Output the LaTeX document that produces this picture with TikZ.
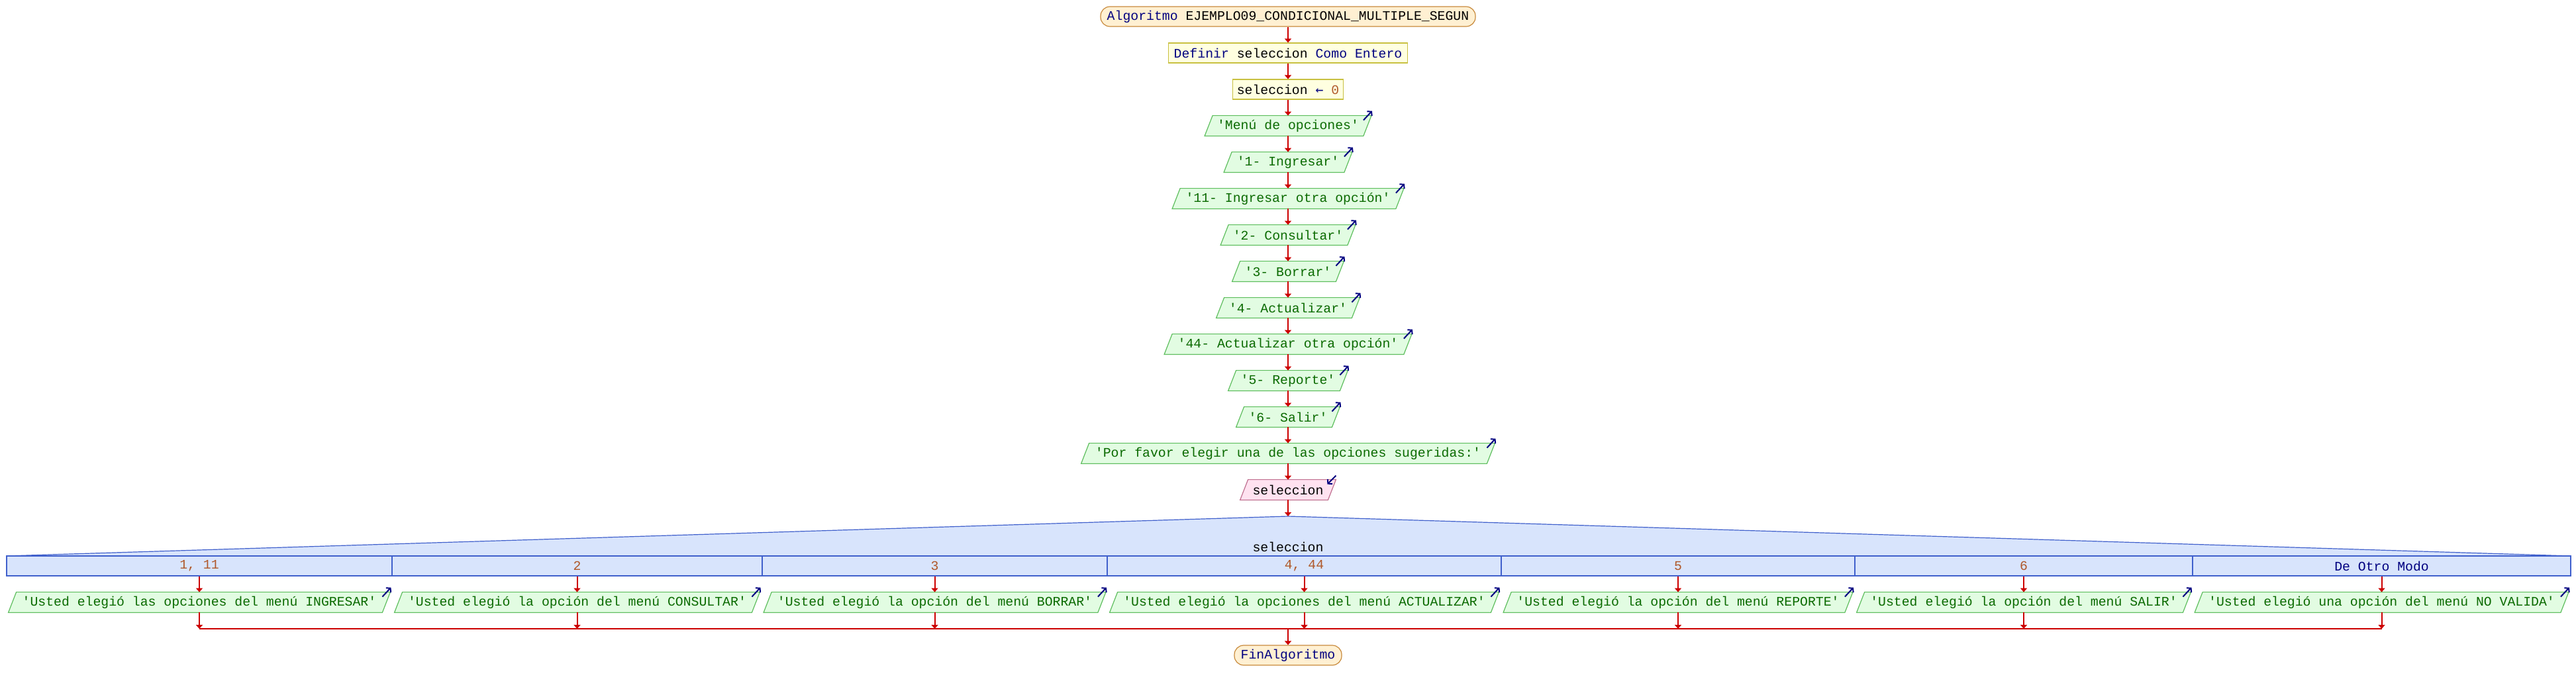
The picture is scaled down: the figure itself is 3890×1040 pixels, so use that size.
\documentclass[tikz,border=0pt]{standalone}
\usepackage{fontspec}
\setmonofont{Liberation Mono}
\newfontfamily\arrowfont{DejaVu Sans Mono}
\usetikzlibrary{arrows.meta}
\pgfdeclarelayer{back}
\pgfdeclarelayer{bg}
\pgfsetlayers{back,bg,main}
\definecolor{kwc}{HTML}{000080}
\definecolor{strc}{HTML}{0A6A00}
\definecolor{numc}{HTML}{B0582A}
\definecolor{redc}{HTML}{CC0000}
\definecolor{termf}{HTML}{FFF0D2}
\definecolor{termb}{HTML}{C88A3C}
\definecolor{procf}{HTML}{FFFFE0}
\definecolor{procb}{HTML}{C8C040}
\definecolor{iof}{HTML}{E2FCE2}
\definecolor{iob}{HTML}{5EBE5E}
\definecolor{inpf}{HTML}{FFE2F0}
\definecolor{inpb}{HTML}{C07090}
\definecolor{swf}{HTML}{D8E4FC}
\definecolor{swb}{HTML}{4060CC}
\tikzset{
  sTerm/.style={draw=termb, fill=termf, line width=0.6pt, rounded corners=7pt, minimum height=15pt, inner sep=0pt},
  sProc/.style={draw=procb, fill=procf, line width=0.6pt, minimum height=15pt, inner sep=0pt},
  sIOtext/.style={minimum height=15pt, inner sep=0pt},
  sIO/.style={draw=iob, fill=iof, line width=0.6pt},
  sInp/.style={draw=inpb, fill=inpf, line width=0.6pt},
  sConn/.style={draw=redc, line width=1pt, -{Triangle[length=3pt,width=5pt]}},
  sMerge/.style={draw=redc, line width=1.4pt},
  sOut/.style={draw=kwc, line width=1pt, -{Straight Barb[length=2.2pt,width=5pt]}},
  sCase/.style={draw=swb, fill=swf, line width=0.6pt, minimum height=15pt, inner sep=0pt},
}
\newcommand{\paral}[6]{%
  \node[sIOtext, minimum width=#4*0.5pt] (#1) at (#2,#3) {#6};
  \begin{pgfonlayer}{bg}
    \draw[#5] ([xshift=-3pt]#1.south west) -- ([xshift=3pt]#1.north west) -- ([xshift=3pt]#1.north east) -- ([xshift=-3pt]#1.south east) -- cycle;
  \end{pgfonlayer}
}
\newcommand{\outarrow}[1]{\draw[sOut] ([xshift=-3pt,yshift=-3.5pt]#1.north east) -- ([xshift=3.5pt,yshift=3.5pt]#1.north east);}
\newcommand{\inarrow}[1]{\draw[sOut] ([xshift=3pt,yshift=3pt]#1.north east) -- ([xshift=-3.5pt,yshift=-3.5pt]#1.north east);}
\begin{document}
\begin{tikzpicture}[x=0.5pt,y=-0.5pt, every node/.append style={font=\ttfamily\fontsize{9.9}{12}\selectfont}]
\begin{pgfonlayer}{back}
\fill[white] (0,0) rectangle (3890,1040);
\end{pgfonlayer}
\useasboundingbox (0,0) rectangle (3890,1040);

% main column
\node[sTerm, minimum width=283pt] (start) at (1945,25) {{\color{kwc}Algoritmo} EJEMPLO09\_CONDICIONAL\_MULTIPLE\_SEGUN};
\node[sProc, minimum width=180.5pt] (def) at (1945,80) {{\color{kwc}Definir} seleccion {\color{kwc}Como Entero}};
\node[sProc, minimum width=83.5pt] (asg) at (1945,135) {seleccion {\color{kwc}\arrowfont ←} {\color{numc}0}};
\paral{p1}{1945}{190}{239}{sIO}{\color{strc}'Menú de opciones'}
\paral{p2}{1945}{245}{181}{sIO}{\color{strc}'1- Ingresar'}
\paral{p3}{1945}{300}{337}{sIO}{\color{strc}'11- Ingresar otra opción'}
\paral{p4}{1945}{355}{191}{sIO}{\color{strc}'2- Consultar'}
\paral{p5}{1945}{410}{156}{sIO}{\color{strc}'3- Borrar'}
\paral{p6}{1945}{465}{204}{sIO}{\color{strc}'4- Actualizar'}
\paral{p7}{1945}{520}{361}{sIO}{\color{strc}'44- Actualizar otra opción'}
\paral{p8}{1945}{575}{168}{sIO}{\color{strc}'5- Reporte'}
\paral{p9}{1945}{630}{144}{sIO}{\color{strc}'6- Salir'}
\paral{p10}{1945}{685}{612}{sIO}{\color{strc}'Por favor elegir una de las opciones sugeridas:'}
\paral{rd}{1945}{740}{132}{sInp}{seleccion}
\foreach \n in {p1,p2,p3,p4,p5,p6,p7,p8,p9,p10} {\outarrow{\n}}
\inarrow{rd}

% switch
\coordinate (swtop) at (1945,780);
\filldraw[draw=swb, fill=swf, line width=0.6pt] (10,840) -- (swtop) -- (3882,840) -- cycle;
\node (swlab) at (1945,826) {seleccion};
\node[sCase, minimum width=291pt]   (c1) at (301,855)    {\color{numc}1, 11};
\node[sCase, minimum width=279.5pt] (c2) at (871.5,855)  {\color{numc}2};
\node[sCase, minimum width=260.5pt] (c3) at (1411.5,855) {\color{numc}3};
\node[sCase, minimum width=297.5pt] (c4) at (1969.5,855) {\color{numc}4, 44};
\node[sCase, minimum width=267pt]   (c5) at (2534,855)   {\color{numc}5};
\node[sCase, minimum width=255pt]   (c6) at (3056,855)   {\color{numc}6};
\node[sCase, minimum width=285.5pt] (c7) at (3596.5,855) {\color{kwc}De Otro Modo};

% outputs
\paral{o1}{301}{910}{564}{sIO}{\color{strc}'Usted elegió las opciones del menú INGRESAR'}
\paral{o2}{871.5}{910}{539}{sIO}{\color{strc}'Usted elegió la opción del menú CONSULTAR'}
\paral{o3}{1411.5}{910}{504}{sIO}{\color{strc}'Usted elegió la opción del menú BORRAR'}
\paral{o4}{1969.5}{910}{575}{sIO}{\color{strc}'Usted elegió la opciones del menú ACTUALIZAR'}
\paral{o5}{2534}{910}{515}{sIO}{\color{strc}'Usted elegió la opción del menú REPORTE'}
\paral{o6}{3056}{910}{492}{sIO}{\color{strc}'Usted elegió la opción del menú SALIR'}
\paral{o7}{3596.5}{910}{552}{sIO}{\color{strc}'Usted elegió una opción del menú NO VALIDA'}
\foreach \n in {o1,o2,o3,o4,o5,o6,o7} {\outarrow{\n}}

\node[sTerm, minimum width=81pt] (fin) at (1945,990) {\color{kwc}FinAlgoritmo};

% merge coordinates
\coordinate (m1) at (301,950);
\coordinate (m2) at (871.5,950);
\coordinate (m3) at (1411.5,950);
\coordinate (m4) at (1969.5,950);
\coordinate (m5) at (2534,950);
\coordinate (m6) at (3056,950);
\coordinate (m7) at (3596.5,950);
\coordinate (mc) at (1945,950);

% connectors
\draw[sConn] (start) -- (def);
\draw[sConn] (def) -- (asg);
\draw[sConn] (asg) -- (p1);
\draw[sConn] (p1) -- (p2);
\draw[sConn] (p2) -- (p3);
\draw[sConn] (p3) -- (p4);
\draw[sConn] (p4) -- (p5);
\draw[sConn] (p5) -- (p6);
\draw[sConn] (p6) -- (p7);
\draw[sConn] (p7) -- (p8);
\draw[sConn] (p8) -- (p9);
\draw[sConn] (p9) -- (p10);
\draw[sConn] (p10) -- (rd);
\draw[sConn] (rd) -- (swtop);
\foreach \i in {1,...,7} {
  \draw[sConn] (c\i) -- (o\i);
  \draw[sConn] (o\i) -- (m\i);
}
\draw[sMerge] (m1) -- (m7);
\draw[sConn] (mc) -- (fin);
\end{tikzpicture}
\end{document}
